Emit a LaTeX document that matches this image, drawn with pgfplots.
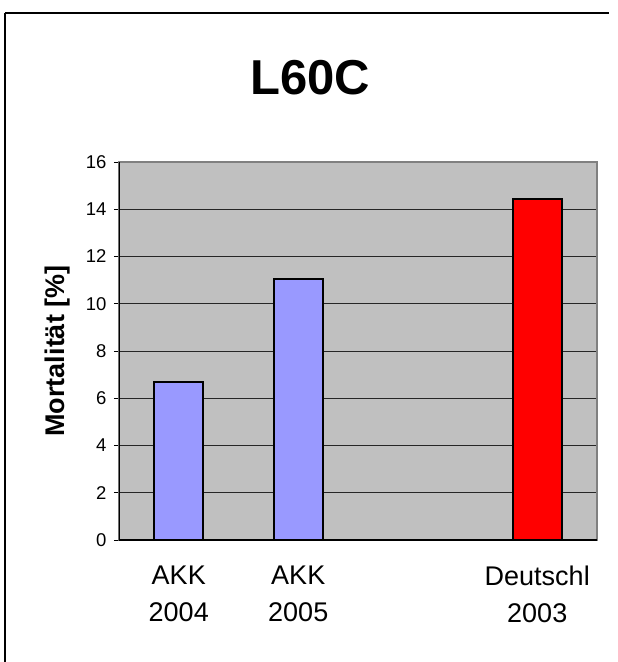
\documentclass[border=0pt]{standalone}
\usepackage{fontspec}
\setmainfont{Liberation Sans}
\usepackage{pgfplots}
\pgfplotsset{compat=1.18}
\definecolor{bluebar}{HTML}{9999FF}
\definecolor{redbar}{HTML}{FF0000}
\definecolor{bggray}{HTML}{C0C0C0}
\begin{document}
\begin{tikzpicture}
\useasboundingbox (-119pt,-122pt) rectangle (499pt,540pt);
% outer chart frame (only left and top visible)
\draw[line width=1.5pt] (-114pt,-122pt) -- (-114pt,527pt);
\draw[line width=1.5pt] (-114pt,527pt) -- (490pt,527pt);
\node[anchor=base, font=\fontsize{49}{49}\selectfont\bfseries] at (191pt,445pt) {L60C};
\begin{axis}[
    at={(0pt,0pt)}, anchor=south west,
    scale only axis, width=478pt, height=378pt,
    /pgf/number format/assume math mode=true,
    ybar, bar width=49pt, bar shift=0pt,
    xmin=-0.5, xmax=3.5,
    ymin=0, ymax=16,
    ytick={0,2,...,16},
    ytick pos=left,
    xtick={0,1,3},
    xticklabels={{AKK\\2004},{AKK\\2005},{Deutschl\\2003}},
    xticklabel style={align=center, font=\fontsize{27}{37}\selectfont, yshift=-17pt},
    yticklabel style={font=\fontsize{18.5}{19}\selectfont, xshift=-4pt},
    xtick style={draw=none},
    ytick style={draw=black, line width=1pt},
    tick align=outside, major tick length=5pt,
    ymajorgrids, grid style={black!85, line width=1pt},
    axis background/.style={fill=bggray},
    axis line style={draw=gray, line width=1.5pt},
    ylabel={Mortalität [\%]},
    ylabel style={at={(axis description cs:-0.128,0.5)}, anchor=center,
                  font=\fontsize{27}{27}\selectfont\bfseries},
]
\addplot[fill=bluebar, draw=black, line width=2pt] coordinates {(0,6.7) (1,11.05)};
\addplot[fill=redbar, draw=black, line width=2pt] coordinates {(3,14.45)};
\draw[black, line width=1.2pt] (rel axis cs:0,1) -- (rel axis cs:0,0) -- (rel axis cs:1,0);
\pgfplotsinvokeforeach{-0.5,0.5,1.5,2.5,3.5}{
  \draw[black, line width=1pt] (axis cs:#1,0) -- ++(0pt,-5pt);
}
\end{axis}
\end{tikzpicture}
\end{document}
